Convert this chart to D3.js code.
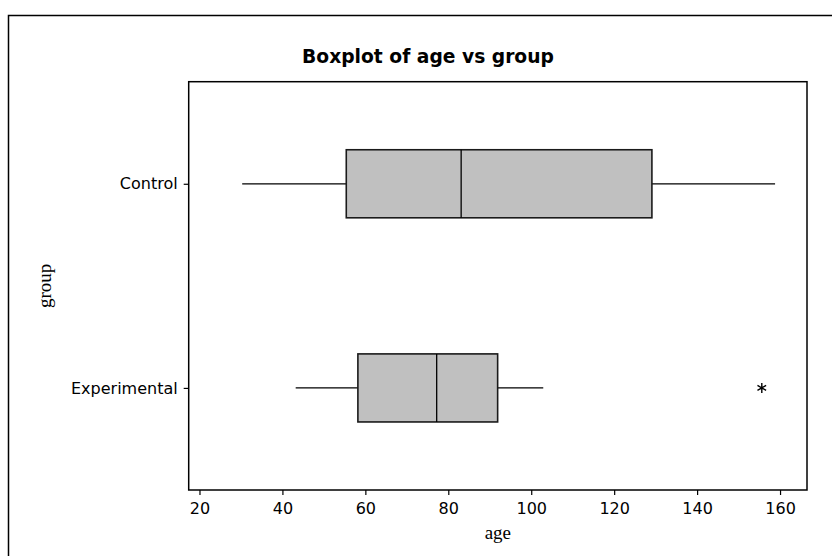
<!DOCTYPE html>
<html>
<head>
<meta charset="utf-8">
<script src="https://cdn.jsdelivr.net/npm/d3@7"></script>
<style>
  body { margin: 0; background: #fff; }
  svg { display: block; }
</style>
</head>
<body>
<div id="chart"></div>
<script>
// data
const groups = ['Control', 'Experimental'];
const whiskerLow = [30.3, 43.2];
const q1 = [55.4, 58.2];
const median = [83.1, 77.2];
const q3 = [129.1, 91.9];
const whiskerHigh = [158.8, 102.9];
const outliers = [[], [155.6]];
const xTicks = [20, 40, 60, 80, 100, 120, 140, 160];

const W = 832, H = 556;
const frame = {left: 188.7, right: 807, top: 81.7, bottom: 490};

const svg = d3.select('#chart').append('svg')
  .attr('width', W)
  .attr('height', H);

svg.append('rect')
  .attr('width', W).attr('height', H)
  .attr('fill', '#fff');

// outer border of the graph window
svg.append('rect')
  .attr('x', 8.5).attr('y', 15.5)
  .attr('width', W + 20).attr('height', H + 20)
  .attr('fill', 'none')
  .attr('stroke', '#000')
  .attr('stroke-width', 1.5);

const x = d3.scaleLinear()
  .domain([17.4, 166.5])
  .range([frame.left, frame.right]);

const y = d3.scalePoint()
  .domain(groups)
  .range([frame.top, frame.bottom])
  .padding(0.5);

const boxH = y.step() / 3;

svg.append('text')
  .attr('x', 428)
  .attr('y', 63)
  .attr('text-anchor', 'middle')
  .attr('font-family', 'DejaVu Sans, sans-serif')
  .attr('font-weight', 'bold')
  .attr('font-size', 18.7)
  .text('Boxplot of age vs group');

// axes
const xAxis = svg.append('g')
  .attr('transform', 'translate(0,' + frame.bottom + ')')
  .call(d3.axisBottom(x).tickValues(xTicks).tickSize(5).tickPadding(8).tickSizeOuter(0));

const yAxis = svg.append('g')
  .attr('transform', 'translate(' + frame.left + ',0)')
  .call(d3.axisLeft(y).tickSize(5).tickPadding(6).tickSizeOuter(0));

[xAxis, yAxis].forEach(a => {
  a.select('.domain').remove();
  a.selectAll('line').attr('stroke', '#000').attr('stroke-width', 1.2);
  a.selectAll('text')
    .attr('font-family', 'DejaVu Sans, sans-serif')
    .attr('font-size', 16)
    .attr('fill', '#000');
});

// plot frame
svg.append('rect')
  .attr('x', frame.left).attr('y', frame.top)
  .attr('width', frame.right - frame.left)
  .attr('height', frame.bottom - frame.top)
  .attr('fill', 'none')
  .attr('stroke', '#000')
  .attr('stroke-width', 1.5);

svg.append('text')
  .attr('x', (frame.left + frame.right) / 2)
  .attr('y', 539)
  .attr('text-anchor', 'middle')
  .attr('font-family', 'Liberation Serif, serif')
  .attr('font-size', 19)
  .text('age');

svg.append('text')
  .attr('transform', 'translate(51,' + (frame.top + frame.bottom) / 2 + ') rotate(-90)')
  .attr('text-anchor', 'middle')
  .attr('font-family', 'Liberation Serif, serif')
  .attr('font-size', 19)
  .text('group');

// boxes
const rows = groups.map((g, i) => ({
  g, lo: whiskerLow[i], q1: q1[i], med: median[i], q3: q3[i], hi: whiskerHigh[i], out: outliers[i]
}));

const box = svg.append('g').selectAll('g')
  .data(rows)
  .join('g');

box.append('line')
  .attr('x1', d => x(d.lo)).attr('x2', d => x(d.q1))
  .attr('y1', d => y(d.g)).attr('y2', d => y(d.g))
  .attr('stroke', '#000').attr('stroke-width', 1.3);

box.append('line')
  .attr('x1', d => x(d.q3)).attr('x2', d => x(d.hi))
  .attr('y1', d => y(d.g)).attr('y2', d => y(d.g))
  .attr('stroke', '#000').attr('stroke-width', 1.3);

box.append('rect')
  .attr('x', d => x(d.q1))
  .attr('y', d => y(d.g) - boxH / 2)
  .attr('width', d => x(d.q3) - x(d.q1))
  .attr('height', boxH)
  .attr('fill', '#c0c0c0')
  .attr('stroke', '#1a1a1a')
  .attr('stroke-width', 1.6);

box.append('line')
  .attr('x1', d => x(d.med)).attr('x2', d => x(d.med))
  .attr('y1', d => y(d.g) - boxH / 2).attr('y2', d => y(d.g) + boxH / 2)
  .attr('stroke', '#000').attr('stroke-width', 1.3);

// outliers as a six-armed asterisk
const asterisk = {
  draw(ctx, size) {
    const r = Math.sqrt(size) / 2;
    for (const a of [90, 30, -30]) {
      const t = a * Math.PI / 180;
      ctx.moveTo(-r * Math.cos(t), -r * Math.sin(t));
      ctx.lineTo(r * Math.cos(t), r * Math.sin(t));
    }
  }
};

box.selectAll('path.out')
  .data(d => d.out.map(v => ({g: d.g, v})))
  .join('path')
  .attr('class', 'out')
  .attr('transform', d => 'translate(' + x(d.v) + ',' + y(d.g) + ')')
  .attr('d', d3.symbol(asterisk, 100))
  .attr('fill', 'none')
  .attr('stroke', '#000')
  .attr('stroke-width', 1.4);
</script>
</body>
</html>
